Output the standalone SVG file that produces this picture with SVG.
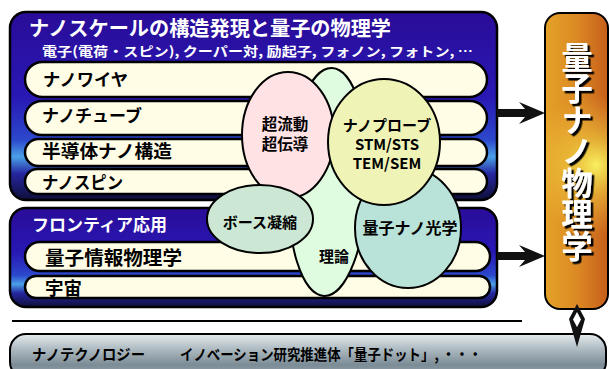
<svg xmlns="http://www.w3.org/2000/svg" width="609" height="369" viewBox="0 0 609 369">
<defs>
<linearGradient id="blue" x1="0" y1="0" x2="0" y2="1">
<stop offset="0" stop-color="#2a0c98"/>
<stop offset="0.45" stop-color="#2818b4"/>
<stop offset="0.68" stop-color="#2c48cc"/>
<stop offset="0.77" stop-color="#4aa0e8"/>
<stop offset="0.86" stop-color="#2626a0"/>
<stop offset="1" stop-color="#0e0e38"/>
</linearGradient>
<linearGradient id="orange" x1="0" y1="0" x2="1" y2="0">
<stop offset="0" stop-color="#e4a228"/>
<stop offset="0.5" stop-color="#dc8a24"/>
<stop offset="1" stop-color="#c65e1a"/>
</linearGradient>
<radialGradient id="burst" cx="596" cy="165" r="70" gradientUnits="userSpaceOnUse">
<stop offset="0" stop-color="#f8f060" stop-opacity="1"/>
<stop offset="0.4" stop-color="#f0d040" stop-opacity="0.6"/>
<stop offset="1" stop-color="#f0c040" stop-opacity="0"/>
</radialGradient>
<linearGradient id="gray" x1="0" y1="0" x2="0" y2="1">
<stop offset="0" stop-color="#e6ecee"/>
<stop offset="0.3" stop-color="#b4c0c6"/>
<stop offset="0.7" stop-color="#7c8c96"/>
<stop offset="1" stop-color="#9aa8b0"/>
</linearGradient>
<filter id="shadow" x="-20%" y="-5%" width="150%" height="115%">
<feDropShadow dx="2.5" dy="2.5" stdDeviation="0" flood-color="#000" flood-opacity="1"/>
</filter>
</defs>
<style>
.box{fill:url(#blue);stroke:#000;stroke-width:2.5}
.pill{fill:#fffde6;stroke:#000;stroke-width:2.5}
.ell{stroke:#000;stroke-width:2}
.jp{font-family:"Noto Sans CJK JP","Liberation Sans",sans-serif;font-weight:bold}
.w{fill:#fff}
.k{fill:#000}
.c{text-anchor:middle}
.arrow{fill:#111}
</style>

<g id="nano-box">
<rect class="box" x="10" y="12" width="487" height="188" rx="16"/>
<text class="jp w" x="29" y="36" font-size="20" textLength="362" lengthAdjust="spacingAndGlyphs">ナノスケールの構造発現と量子の物理学</text>
<text class="jp w" x="42" y="56" font-size="13" textLength="431" lengthAdjust="spacingAndGlyphs">電子(電荷・スピン), クーパー対, 励起子, フォノン, フォトン, …</text>
</g>
<g id="nanowire">
<rect class="pill" x="25" y="62" width="462" height="35" rx="17.5"/>
<text class="jp k" x="43" y="86" font-size="17" textLength="85" lengthAdjust="spacingAndGlyphs">ナノワイヤ</text>
</g>
<g id="nanotube">
<rect class="pill" x="25" y="101" width="462" height="34" rx="17"/>
<text class="jp k" x="42" y="122" font-size="17" textLength="100" lengthAdjust="spacingAndGlyphs">ナノチューブ</text>
</g>
<g id="semiconductor">
<rect class="pill" x="25" y="139" width="462" height="27" rx="13.5"/>
<text class="jp k" x="42" y="158" font-size="18" textLength="130" lengthAdjust="spacingAndGlyphs">半導体ナノ構造</text>
</g>
<g id="nanospin">
<rect class="pill" x="25" y="169" width="462" height="25" rx="12.5"/>
<text class="jp k" x="42" y="189" font-size="17" textLength="81" lengthAdjust="spacingAndGlyphs">ナノスピン</text>
</g>

<g id="frontier-box">
<rect class="box" x="10" y="208" width="487" height="99" rx="16"/>
<text class="jp w" x="32" y="231" font-size="17" textLength="135" lengthAdjust="spacingAndGlyphs">フロンティア応用</text>
</g>
<g id="quantum-info">
<rect class="pill" x="25" y="242" width="465" height="29" rx="14.5"/>
<text class="jp k" x="45" y="265" font-size="19" textLength="137" lengthAdjust="spacingAndGlyphs">量子情報物理学</text>
</g>
<g id="cosmos">
<rect class="pill" x="25" y="276" width="465" height="22" rx="11"/>
<text class="jp k" x="45" y="295" font-size="18" textLength="37" lengthAdjust="spacingAndGlyphs">宇宙</text>
</g>

<g id="theory">
<ellipse class="ell" cx="328" cy="182" rx="40" ry="114" fill="#e0fce0" transform="rotate(2 328 182)"/>
<text class="jp k c" x="334" y="262" font-size="15">理論</text>
</g>
<g id="quantum-optics">
<ellipse class="ell" cx="408" cy="228" rx="53" ry="60" fill="#b9e2d8"/>
<text class="jp k c" x="410" y="234" font-size="16">量子ナノ光学</text>
</g>
<g id="superfluid">
<ellipse class="ell" cx="288" cy="135" rx="46" ry="63" fill="#ffe2e4"/>
<text class="jp k c" x="285" y="129.5" font-size="15.5">超流動</text>
<text class="jp k c" x="285" y="149.5" font-size="15.5">超伝導</text>
</g>
<g id="bose">
<ellipse class="ell" cx="260" cy="219" rx="53" ry="34" fill="#cce8d4"/>
<text class="jp k c" x="260" y="228" font-size="15">ボース凝縮</text>
</g>
<g id="nanoprobe">
<ellipse class="ell" cx="384" cy="142" rx="56" ry="63" fill="#eff3b6"/>
<text class="jp k c" x="387" y="131" font-size="15">ナノプローブ</text>
<text class="jp k c" x="387" y="150" font-size="15">STM/STS</text>
<text class="jp k c" x="387" y="169" font-size="15">TEM/SEM</text>
</g>

<g id="quantum-nano-physics">
<rect x="545" y="13" width="63" height="296" rx="15" fill="url(#orange)"/>
<rect x="545" y="13" width="63" height="296" rx="15" fill="url(#burst)"/>
<rect x="545" y="13" width="63" height="296" rx="15" fill="none" stroke="#000" stroke-width="2"/>
<text class="jp w" x="577" y="41" font-size="31.5" writing-mode="vertical-rl" filter="url(#shadow)">量子ナノ物理学</text>
</g>

<g id="nanotech-bar">
<rect x="10" y="334" width="596" height="44" rx="16" fill="url(#gray)" stroke="#000" stroke-width="2"/>
<text class="jp k" x="32" y="360" font-size="15" textLength="113" lengthAdjust="spacingAndGlyphs">ナノテクノロジー</text>
<text class="jp k" x="180" y="360" font-size="15" textLength="302" lengthAdjust="spacingAndGlyphs">イノベーション研究推進体「量子ドット」, ・・・</text>
</g>

<g id="connectors">
<line x1="12" y1="321" x2="522" y2="321" stroke="#000" stroke-width="2"/>
<path class="arrow" d="M497,109 H525 L519,102 L545,113 L519,124 L525,117 H497 Z"/>
<path class="arrow" d="M497,252 H525 L519,245 L545,256 L519,267 L525,260 H497 Z"/>
<path class="arrow" d="M577,304 L585,319 L577,347 L569,319 Z"/>
<path d="M577,312 L581,319.5 L577,327 L573,319.5 Z" fill="#fff"/>
</g>
</svg>
